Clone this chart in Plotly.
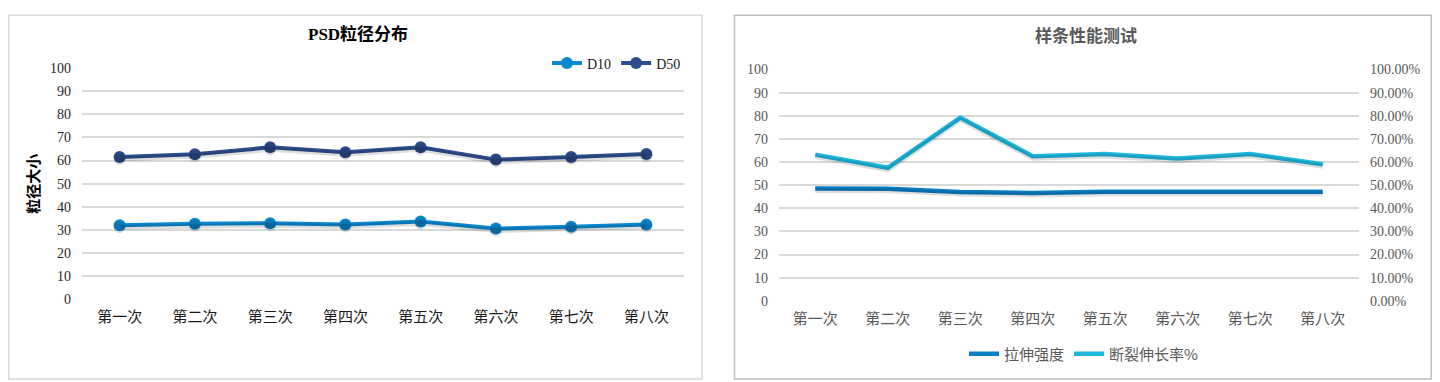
import plotly.graph_objects as go

# figure size and the observed page placement of the figure
W, H = 1424, 380
OX = 8.0          # horizontal offset of the figure on the page
OY, SY = 14.6, 0.959   # vertical offset / scale observed in the screenshot

categories = ["第一次", "第二次", "第三次", "第四次", "第五次", "第六次", "第七次", "第八次"]

# Left chart: PSD particle size
d10 = [32.0, 32.7, 32.9, 32.4, 33.6, 30.6, 31.4, 32.3]
d50 = [61.5, 62.7, 65.7, 63.6, 65.7, 60.4, 61.5, 62.8]

# Right chart: sample performance
tensile = [48.6, 48.5, 47.1, 46.6, 47.2, 47.2, 47.2, 47.2]
elongation = [0.632, 0.575, 0.792, 0.625, 0.635, 0.615, 0.635, 0.590]

left_ticks = list(range(0, 101, 10))

C_D10 = "#0b88cf"
C_D50 = "#2d4d8c"
C_TEN = "#0a7cc2"
C_ELO = "#20b7de"
GRID = "#d9d9d9"
SHADOW = "rgba(0,0,0,0.13)"

SERIF = "Liberation Serif, Noto Sans CJK SC"
CJK = "Noto Sans CJK SC, Liberation Serif"


def px_x(x):
    return min(max((x - OX) / W, 0.0005), 0.9995)


def px_y(y):
    fy = (y - OY) / SY
    return min(max(1 - fy / H, 0.0005), 0.9995)


ydom_l = [px_y(298.5), px_y(67.5)]
ydom_r = [px_y(300), px_y(69)]
xrange = [-0.5, len(categories) - 0.5]

# shadow offset in axis units (about 2 px below the line)
plot_h_l = (ydom_l[1] - ydom_l[0]) * H * SY
plot_h_r = (ydom_r[1] - ydom_r[0]) * H * SY
sh_l = 2.0 / plot_h_l * 100
sh_r = 2.0 / plot_h_r * 100

fig = go.Figure()

# soft shadows (same data, drawn on offset overlay axes)
fig.add_trace(go.Scatter(x=categories, y=d10, mode="lines+markers", showlegend=False, hoverinfo="skip",
                         line=dict(color=SHADOW, width=5), marker=dict(size=12, color=SHADOW),
                         xaxis="x", yaxis="y4"))
fig.add_trace(go.Scatter(x=categories, y=d50, mode="lines+markers", showlegend=False, hoverinfo="skip",
                         line=dict(color=SHADOW, width=5), marker=dict(size=12, color=SHADOW),
                         xaxis="x", yaxis="y4"))
fig.add_trace(go.Scatter(x=categories, y=tensile, mode="lines", showlegend=False, hoverinfo="skip",
                         line=dict(color=SHADOW, width=5), xaxis="x2", yaxis="y5"))
fig.add_trace(go.Scatter(x=categories, y=elongation, mode="lines", showlegend=False, hoverinfo="skip",
                         line=dict(color=SHADOW, width=5), xaxis="x2", yaxis="y6"))

fig.add_trace(go.Scatter(
    x=categories, y=d10, name="D10", mode="lines+markers",
    line=dict(color=C_D10, width=4), marker=dict(size=12, color=C_D10),
    xaxis="x", yaxis="y", legend="legend",
))
fig.add_trace(go.Scatter(
    x=categories, y=d50, name="D50", mode="lines+markers",
    line=dict(color=C_D50, width=4), marker=dict(size=12, color=C_D50),
    xaxis="x", yaxis="y", legend="legend",
))
fig.add_trace(go.Scatter(
    x=categories, y=tensile, name="拉伸强度", mode="lines",
    line=dict(color=C_TEN, width=4.5),
    xaxis="x2", yaxis="y2", legend="legend2",
))
fig.add_trace(go.Scatter(
    x=categories, y=elongation, name="断裂伸长率%", mode="lines",
    line=dict(color=C_ELO, width=4.5),
    xaxis="x2", yaxis="y3", legend="legend2",
))

hidden = dict(showgrid=False, zeroline=False, showline=False, showticklabels=False, ticks="")

fig.update_layout(
    width=W, height=H,
    margin=dict(l=0, r=0, t=0, b=0),
    paper_bgcolor="white", plot_bgcolor="white",
    showlegend=True,
    xaxis=dict(
        domain=[px_x(82), px_x(684)], type="category", range=xrange,
        showgrid=False, showline=False, zeroline=False, ticks="",
        tickfont=dict(family=CJK, size=15, color="#1a1a1a"),
        ticklabelstandoff=7, anchor="y",
    ),
    yaxis=dict(
        domain=ydom_l, range=[0, 100], tickvals=left_ticks,
        showgrid=True, gridcolor=GRID, gridwidth=2, zeroline=False,
        showline=False, ticks="",
        tickfont=dict(family=SERIF, size=14, color="#262626"),
        ticklabelstandoff=10, anchor="x",
        title=dict(text="<b>粒径大小</b>", font=dict(family=CJK, size=15, color="#000000"),
                   standoff=6),
    ),
    yaxis4=dict(domain=ydom_l, range=[sh_l, 100 + sh_l], overlaying="y", anchor="x", **hidden),
    xaxis2=dict(
        domain=[px_x(779), px_x(1359)], type="category", range=xrange,
        showgrid=False, showline=False, zeroline=False, ticks="",
        tickfont=dict(family=CJK, size=15, color="#595959"),
        ticklabelstandoff=7, anchor="y2",
    ),
    yaxis2=dict(
        domain=ydom_r, range=[0, 100], tickvals=left_ticks,
        showgrid=True, gridcolor=GRID, gridwidth=2, zeroline=False,
        showline=False, ticks="",
        tickfont=dict(family=SERIF, size=14, color="#595959"),
        ticklabelstandoff=10, anchor="x2",
    ),
    yaxis3=dict(
        domain=ydom_r, range=[0, 1], overlaying="y2", side="right",
        tickvals=[v / 100 for v in left_ticks], tickformat=".2%",
        showgrid=False, zeroline=False, showline=False, ticks="",
        tickfont=dict(family=SERIF, size=14, color="#595959"),
        ticklabelstandoff=10, anchor="x2",
    ),
    yaxis5=dict(domain=ydom_r, range=[sh_r, 100 + sh_r], overlaying="y2", anchor="x2", **hidden),
    yaxis6=dict(domain=ydom_r, range=[sh_r / 100, 1 + sh_r / 100], overlaying="y2", anchor="x2", **hidden),
    legend=dict(
        orientation="h", x=px_x(686), xanchor="right", y=px_y(63), yanchor="middle",
        font=dict(family=SERIF, size=14, color="#1a1a1a"),
        bgcolor="rgba(0,0,0,0)", itemwidth=30, tracegroupgap=0,
        itemclick=False,
    ),
    legend2=dict(
        orientation="h", x=px_x(1084), xanchor="center", y=px_y(353), yanchor="middle",
        font=dict(family=CJK, size=15, color="#595959"),
        bgcolor="rgba(0,0,0,0)", itemwidth=30,
        itemclick=False,
    ),
    annotations=[
        dict(text="<b>PSD粒径分布</b>", x=px_x(358), y=px_y(34), xref="paper", yref="paper",
             showarrow=False, font=dict(family=SERIF, size=17, color="#000000"),
             xanchor="center", yanchor="middle"),
        dict(text="<b>样条性能测试</b>", x=px_x(1086), y=px_y(34), xref="paper", yref="paper",
             showarrow=False, font=dict(family=CJK, size=17, color="#595959"),
             xanchor="center", yanchor="middle"),
    ],
    shapes=[
        dict(type="rect", xref="paper", yref="paper",
             x0=px_x(3.5), x1=px_x(702), y0=px_y(378), y1=px_y(11),
             line=dict(color="#d9d9d9", width=1.5), fillcolor="rgba(0,0,0,0)", layer="below"),
        dict(type="rect", xref="paper", yref="paper",
             x0=px_x(734.5), x1=px_x(1432), y0=px_y(378), y1=px_y(11),
             line=dict(color="#bfbfbf", width=1.5), fillcolor="rgba(0,0,0,0)", layer="below"),
    ],
)

fig.write_html("out.html")
